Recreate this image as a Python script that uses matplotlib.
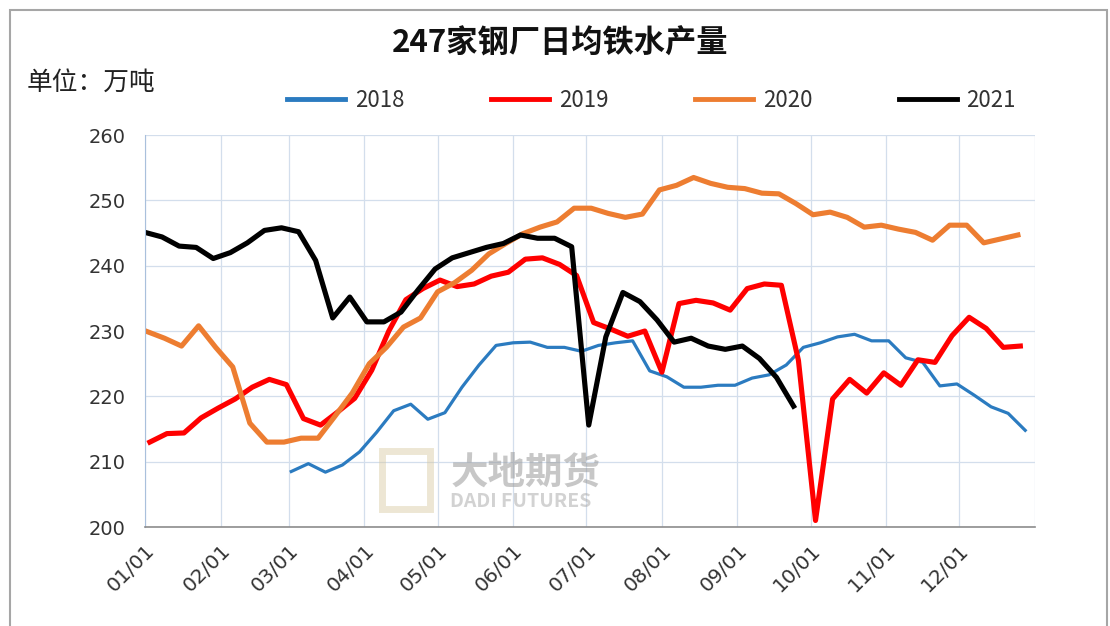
import pandas as pd
import matplotlib
matplotlib.use("Agg")
import matplotlib.pyplot as plt
from matplotlib.patches import Rectangle

plt.rcParams['font.family'] = ['Noto Sans CJK SC', 'DejaVu Sans']

# 247家钢厂日均铁水产量（万吨），周度数据
start_2018 = "2021-03-02"
start_2019 = "2021-01-03"
start_2020 = "2021-01-02"
start_2021 = "2021-01-01"

v2018 = [208.5, 209.7, 208.4, 209.5, 211.5, 214.5, 217.8, 218.8, 216.5, 217.5,
         221.4, 224.8, 227.8, 228.2, 228.3, 227.5, 227.5, 226.9, 227.8, 228.2,
         228.5, 223.9, 223.0, 221.4, 221.4, 221.7, 221.7, 222.8, 223.3, 224.8,
         227.5, 228.2, 229.1, 229.5, 228.5, 228.5, 225.9, 225.2, 221.6, 221.9,
         220.2, 218.4, 217.4, 214.8]
v2019 = [213.0, 214.3, 214.4, 216.7, 218.2, 219.6, 221.4, 222.6, 221.8, 216.6,
         215.6, 217.6, 219.7, 224.0, 230.0, 234.8, 236.5, 237.8, 236.8, 237.2,
         238.4, 239.0, 241.0, 241.2, 240.2, 238.5, 231.3, 230.3, 229.2, 230.0,
         223.7, 234.2, 234.7, 234.3, 233.2, 236.5, 237.2, 237.0, 225.5, 201.0,
         219.6, 222.6, 220.5, 223.6, 221.7, 225.6, 225.2, 229.3, 232.1, 230.4,
         227.5, 227.7]
v2020 = [229.9, 228.9, 227.7, 230.8, 227.5, 224.5, 215.9, 213.0, 213.0, 213.6,
         213.6, 217.0, 220.5, 225.0, 227.5, 230.6, 232.0, 236.0, 237.4, 239.3,
         241.8, 243.4, 244.9, 245.9, 246.7, 248.8, 248.8, 248.0, 247.4, 247.9,
         251.6, 252.3, 253.5, 252.6, 252.0, 251.8, 251.1, 251.0, 249.5, 247.8,
         248.2, 247.4, 245.9, 246.2, 245.6, 245.1, 243.9, 246.2, 246.2, 243.5,
         244.1, 244.7]
v2021 = [245.1, 244.4, 243.0, 242.8, 241.1, 242.0, 243.5, 245.4, 245.8, 245.2,
         240.8, 232.0, 235.2, 231.4, 231.4, 232.9, 236.3, 239.5, 241.2, 242.0,
         242.8, 243.4, 244.7, 244.2, 244.2, 242.9, 215.6, 229.1, 235.9, 234.5,
         231.7, 228.3, 228.9, 227.7, 227.2, 227.7, 225.8, 222.9, 218.5]

series = [
    ("2018", start_2018, v2018, "#2b7bc0", 2.3),
    ("2019", start_2019, v2019, "#ff0000", 3.7),
    ("2020", start_2020, v2020, "#ed7d31", 3.7),
    ("2021", start_2021, v2021, "#000000", 3.7),
]

fig = plt.figure(figsize=(11.1, 6.26), dpi=100)
ax = fig.add_axes([0.1306, 0.1581, 0.8018, 0.6262])

for name, start, vals, color, lw in series:
    dates = pd.date_range(start, periods=len(vals), freq="7D")
    ax.plot(dates, vals, color=color, lw=lw, label=name, solid_joinstyle="round")

ax.set_ylim(200, 260)
ax.set_yticks(range(200, 261, 10))
ax.set_xlim(pd.Timestamp("2021-01-01"), pd.Timestamp("2022-01-01"))
month_ticks = pd.date_range("2021-01-01", "2022-01-01", freq="MS")
ax.set_xticks(month_ticks)
ax.set_xticklabels([d.strftime("%m/%d") for d in month_ticks[:-1]] + [""],
                   rotation=45, ha="right", rotation_mode="anchor")
ax.tick_params(axis="both", length=0, colors="#333333")
ax.tick_params(axis="x", pad=10, labelsize=14.5)
ax.tick_params(axis="y", pad=14, labelsize=14)
for lab in ax.get_xticklabels() + ax.get_yticklabels():
    lab.set_family("DejaVu Sans")

ax.grid(True, color="#d3deec", lw=0.9)
ax.set_axisbelow(True)
for s in ["top", "right"]:
    ax.spines[s].set_visible(False)
ax.spines["left"].set_color("#a9c0dc")
ax.spines["bottom"].set_color("#8c8c8c")
ax.spines["bottom"].set_linewidth(1.2)

# 水印
ax.text(0.343, 0.14, "大地期货", transform=ax.transAxes, fontsize=27,
        fontweight="bold", color="#9a9a9a", alpha=0.55, ha="left", va="center")
ax.text(0.343, 0.066, "DADI FUTURES", transform=ax.transAxes, fontsize=14,
        fontweight="bold", color="#a6a6a6", alpha=0.5, ha="left", va="center")
ax.add_patch(Rectangle((0.266, 0.045), 0.054, 0.15, transform=ax.transAxes,
                       fill=False, ec="#d8c9a0", lw=5, alpha=0.45))

leg = fig.legend(loc="center", bbox_to_anchor=(0.587, 0.84), ncol=4, frameon=False,
                 fontsize=16, handlelength=2.6, handletextpad=0.45,
                 columnspacing=3.9)
for t in leg.get_texts():
    t.set_color("#333333")
for line in leg.get_lines():
    line.set_linewidth(3.5)

fig.text(0.505, 0.93, "247家钢厂日均铁水产量", ha="center", va="center",
         fontsize=22.5, fontweight="bold", color="#111111")
fig.text(0.024, 0.868, "单位：万吨", ha="left", va="center", fontsize=18.5,
         color="#222222")

fig.add_artist(Rectangle((10 / 1110, -0.05), 1097 / 1110, 1 - 10 / 626 + 0.05,
                         transform=fig.transFigure, fill=False, ec="#a6a6a6", lw=1.5))

fig.savefig("out.png", dpi=100)
